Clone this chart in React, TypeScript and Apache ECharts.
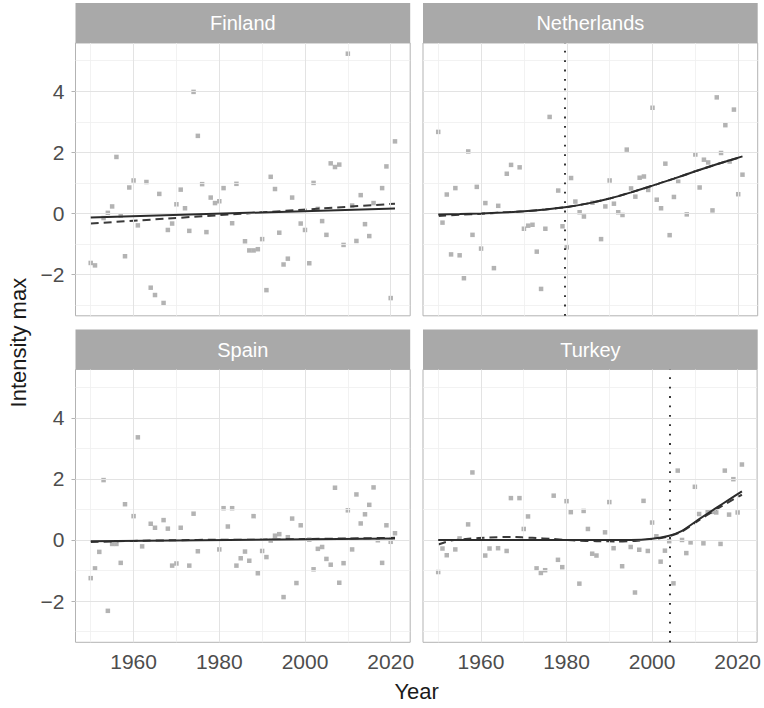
import React, { useEffect, useRef } from "react";
import * as echarts from "echarts";

const countries = ["Finland", "Netherlands", "Spain", "Turkey"];

const finlandPoints: [number, number][] = [
  [1950, -1.62], [1951, -1.7], [1953, -0.15], [1954, 0.02], [1955, 0.23], [1956, 1.85], [1957, -0.07],
  [1958, -1.4], [1959, 0.85], [1960, 1.08], [1961, -0.39], [1963, 1.03], [1964, -2.43], [1965, -2.67],
  [1966, 0.64], [1967, -2.93], [1968, -0.54], [1969, -0.33], [1970, 0.3], [1971, 0.78], [1972, 0.17],
  [1973, -0.57], [1974, 3.98], [1975, 2.54], [1976, 0.96], [1977, -0.61], [1978, 0.52], [1979, 0.34],
  [1980, 0.4], [1981, 0.83], [1983, -0.32], [1984, 0.97], [1986, -0.91], [1987, -1.21], [1988, -1.21],
  [1989, -1.17], [1990, -0.84], [1991, -2.51], [1992, 1.2], [1993, 0.8], [1994, -0.63], [1995, -1.67],
  [1996, -1.48], [1997, 0.52], [1999, -0.33], [2000, -0.54], [2001, -1.63], [2002, 1.0], [2003, 0.15],
  [2004, -0.25], [2005, -0.7], [2006, 1.64], [2007, 1.52], [2008, 1.6], [2009, -1.03], [2010, 5.23],
  [2011, 0.26], [2012, -0.9], [2013, 0.6], [2014, -0.35], [2015, -0.74], [2016, 0.34], [2018, 0.83],
  [2019, 1.54], [2020, -2.77], [2021, 2.36],
];
const netherlandsPoints: [number, number][] = [
  [1950, 2.67], [1951, -0.3], [1952, 0.62], [1953, -1.34], [1954, 0.83], [1955, -1.37], [1956, -2.12],
  [1957, 2.03], [1958, -0.7], [1959, 0.87], [1960, -1.15], [1961, 0.34], [1963, -1.79], [1964, 0.25],
  [1966, 1.3], [1967, 1.59], [1969, 1.51], [1970, -0.5], [1971, -0.4], [1972, -0.37], [1973, -1.25],
  [1974, -2.47], [1975, -0.5], [1976, 3.16], [1978, 0.75], [1979, -0.42], [1980, -1.11], [1981, 1.16],
  [1982, 0.39], [1983, 0.04], [1984, -0.1], [1986, 0.35], [1988, -0.84], [1989, 0.23], [1990, 1.08],
  [1991, 0.32], [1992, 0.04], [1993, -0.05], [1994, 2.09], [1995, 0.82], [1996, 0.55], [1997, 1.17],
  [1998, 1.21], [1999, 0.77], [2000, 3.46], [2001, 0.45], [2002, 0.17], [2003, 1.63], [2004, -0.71],
  [2005, 0.54], [2006, 1.04], [2008, -0.03], [2010, 1.93], [2011, 0.85], [2012, 1.76], [2013, 1.67],
  [2014, 0.1], [2015, 3.8], [2016, 1.98], [2017, 2.89], [2018, 1.7], [2019, 3.4], [2020, 0.63], [2021, 1.27],
];
const spainPoints: [number, number][] = [
  [1950, -1.25], [1951, -0.93], [1952, -0.39], [1953, 1.96], [1954, -2.32], [1955, -0.13], [1956, -0.13],
  [1957, -0.75], [1958, 1.17], [1960, 0.78], [1961, 3.36], [1962, -0.21], [1964, 0.53], [1965, 0.4],
  [1967, 0.65], [1968, 0.37], [1969, -0.84], [1970, -0.77], [1971, 0.4], [1973, -0.84], [1974, 0.86],
  [1975, -0.37], [1980, -0.31], [1981, 1.04], [1982, 0.44], [1983, 1.04], [1984, -0.84], [1985, -0.6],
  [1986, -0.38], [1987, -0.68], [1988, 0.78], [1989, -1.09], [1990, -0.36], [1991, -0.56], [1992, -0.02],
  [1993, 0.14], [1994, 0.19], [1995, -1.87], [1996, 0.09], [1997, 0.7], [1998, -1.41], [1999, 0.48],
  [2001, 0.01], [2002, -0.96], [2003, -0.29], [2004, -0.23], [2005, -0.62], [2006, -0.81], [2007, 1.71],
  [2008, -1.4], [2009, -0.76], [2010, 0.97], [2011, -0.31], [2012, 1.49], [2013, 0.54], [2014, 0.84],
  [2015, 1.15], [2016, 1.72], [2017, -0.01], [2018, -0.75], [2019, 0.48], [2020, -0.06], [2021, 0.22],
];
const turkeyPoints: [number, number][] = [
  [1950, -1.05], [1951, -0.28], [1952, -0.5], [1954, -0.31], [1955, 0.05], [1957, 0.51], [1958, 2.21],
  [1961, -0.51], [1962, -0.28], [1964, -0.27], [1966, -0.36], [1967, 1.37], [1969, 1.37], [1970, 0.36],
  [1971, 0.77], [1973, -0.93], [1974, -1.08], [1975, -0.99], [1977, 1.45], [1978, -0.65], [1979, -0.89],
  [1980, 1.27], [1981, 0.91], [1983, -1.43], [1984, 0.95], [1985, 0.36], [1986, -0.45], [1987, -0.51],
  [1989, 0.25], [1990, 1.24], [1991, -0.27], [1993, -0.86], [1995, -0.23], [1996, -1.72], [1997, -0.32],
  [1998, 1.28], [1999, -0.36], [2000, 0.57], [2001, 0.12], [2002, -0.71], [2003, -0.35], [2004, -0.04],
  [2005, -1.42], [2006, 2.27], [2007, 0.0], [2008, -0.43], [2009, -0.08], [2010, 1.74], [2011, 0.85],
  [2012, -0.11], [2013, 0.91], [2014, 0.92], [2015, 0.9], [2016, -0.13], [2017, 2.27], [2018, 0.83],
  [2019, 1.99], [2020, 0.9], [2021, 2.47],
];

const finlandSolid: [number, number][] = [[1950, -0.13], [2021, 0.16]];
const finlandDashed: [number, number][] = [[1950, -0.33], [2021, 0.32]];
const netherlandsSolid: [number, number][] = [
  [1950, -0.03], [1955, -0.02], [1960, 0.0], [1965, 0.03], [1970, 0.07], [1975, 0.13], [1980, 0.21],
  [1985, 0.33], [1990, 0.49], [1995, 0.69], [2000, 0.91], [2005, 1.14], [2010, 1.38], [2015, 1.61], [2021, 1.87],
];
const netherlandsDashed: [number, number][] = [
  [1950, -0.08], [1955, -0.04], [1960, -0.01], [1965, 0.03], [1970, 0.07], [1975, 0.13], [1980, 0.21],
  [1985, 0.33], [1990, 0.49], [1995, 0.69], [2000, 0.91], [2005, 1.14], [2010, 1.38], [2015, 1.61], [2021, 1.86],
];
const spainSolid: [number, number][] = [[1950, -0.04], [2021, 0.05]];
const spainDashed: [number, number][] = [
  [1950, -0.07], [1960, -0.03], [1970, -0.01], [1980, 0.01], [1990, 0.01], [2000, 0.03], [2010, 0.05], [2021, 0.07],
];
const turkeySolid: [number, number][] = [
  [1950, 0.0], [1960, 0.0], [1970, 0.0], [1980, 0.0], [1990, 0.0], [1995, 0.0], [2000, 0.04], [2004, 0.14],
  [2007, 0.3], [2011, 0.68], [2015, 1.05], [2018, 1.32], [2021, 1.59],
];
const turkeyDashed: [number, number][] = [
  [1950, -0.15], [1953, -0.02], [1957, 0.04], [1962, 0.08], [1967, 0.1], [1972, 0.07], [1977, 0.03],
  [1982, -0.02], [1987, -0.04], [1992, -0.05], [1996, -0.03], [2000, 0.02], [2004, 0.12], [2007, 0.28],
  [2011, 0.65], [2015, 1.0], [2018, 1.25], [2021, 1.48],
];

const pointsByCountry = [finlandPoints, netherlandsPoints, spainPoints, turkeyPoints];
const solidByCountry = [finlandSolid, netherlandsSolid, spainSolid, turkeySolid];
const dashedByCountry = [finlandDashed, netherlandsDashed, spainDashed, turkeyDashed];
const breakYears: (number | null)[] = [null, 1979.6, null, 2004.1];

const xMajorTicks = [1960, 1980, 2000, 2020];
const xMinorTicks = [1950, 1970, 1990, 2010];
const yMajorTicks = [-2, 0, 2, 4];
const yMinorTicks = [-3, -1, 1, 3, 5];
const xRange = [1946.45, 2024.55];
const yRange = [-3.35, 5.58];

const FONT = "'Liberation Sans', Arial, Helvetica, sans-serif";
const LEFTS = [75.5, 423];
const TOPS = [43, 369.5];
const W = 334.7;
const H = 272.8;
const STRIP_H = 40;

export default function App() {
  const ref = useRef<HTMLDivElement>(null);
  useEffect(() => {
    if (!ref.current) return;
    const chart = echarts.init(ref.current, undefined, { renderer: "svg" });
    const grids: any[] = [];
    const xAxes: any[] = [];
    const yAxes: any[] = [];
    const series: any[] = [];
    const graphics: any[] = [];
    const majorStyle = { color: "#e3e3e3", width: 1, type: "solid" };
    const minorStyle = { color: "#efefef", width: 0.8, type: "solid" };

    countries.forEach((name, i) => {
      const col = i % 2;
      const row = Math.floor(i / 2);
      const left = LEFTS[col];
      const top = TOPS[row];
      grids.push({
        left, top, width: W, height: H, show: true,
        borderColor: "#b3b3b3", borderWidth: 1, backgroundColor: "transparent",
      });
      xAxes.push({
        type: "value", gridIndex: i, min: xRange[0], max: xRange[1],
        axisLine: { show: false }, splitLine: { show: false },
        axisTick: { show: row === 1, customValues: xMajorTicks, length: 4, lineStyle: { color: "#b3b3b3" } },
        axisLabel: {
          show: row === 1, customValues: xMajorTicks, fontSize: 21, color: "#4d4d4d", margin: 9, fontFamily: FONT,
          formatter: (v: number) => String(v),
        },
      });
      yAxes.push({
        type: "value", gridIndex: i, min: yRange[0], max: yRange[1],
        axisLine: { show: false }, splitLine: { show: false },
        axisTick: { show: col === 0, customValues: yMajorTicks, length: 4, lineStyle: { color: "#b3b3b3" } },
        axisLabel: {
          show: col === 0, customValues: yMajorTicks, fontSize: 21, color: "#4d4d4d", margin: 11, fontFamily: FONT,
          formatter: (v: number) => (v < 0 ? "\u2212" + Math.abs(v) : String(v)),
        },
      });
      series.push({
        type: "line", xAxisIndex: i, yAxisIndex: i, data: [], silent: true, z: 1,
        markLine: {
          silent: true, symbol: ["none", "none"], label: { show: false }, animation: false,
          data: [
            ...xMinorTicks.map((v) => ({ xAxis: v, lineStyle: minorStyle })),
            ...yMinorTicks.map((v) => ({ yAxis: v, lineStyle: minorStyle })),
            ...xMajorTicks.map((v) => ({ xAxis: v, lineStyle: majorStyle })),
            ...yMajorTicks.map((v) => ({ yAxis: v, lineStyle: majorStyle })),
          ],
        },
      });
      series.push({
        type: "scatter", xAxisIndex: i, yAxisIndex: i, data: pointsByCountry[i], symbol: "rect",
        symbolSize: 4.5, itemStyle: { color: "#a0a0a0" }, z: 3, silent: true,
      });
      series.push({
        type: "line", xAxisIndex: i, yAxisIndex: i, data: dashedByCountry[i], showSymbol: false, smooth: 0.2,
        lineStyle: { color: "#3a3a3a", width: 2, type: [8, 5] }, z: 4, silent: true,
      });
      series.push({
        type: "line", xAxisIndex: i, yAxisIndex: i, data: solidByCountry[i], showSymbol: false, smooth: 0.2,
        lineStyle: { color: "#2b2b2b", width: 2 }, z: 5, silent: true,
      });
      const by = breakYears[i];
      if (by !== null) {
        series.push({
          type: "line", xAxisIndex: i, yAxisIndex: i, data: [], silent: true, z: 6,
          markLine: {
            silent: true, symbol: ["none", "none"], label: { show: false }, animation: false,
            data: [{ xAxis: by, lineStyle: { color: "#222", width: 1.8, type: [1.8, 7.6] } }],
          },
        });
      }
      graphics.push({
        type: "rect", shape: { x: left, y: top - STRIP_H, width: W, height: STRIP_H },
        style: { fill: "#a9a9a9" }, silent: true,
      });
      graphics.push({
        type: "text", x: left + W / 2, y: top - STRIP_H / 2,
        style: { text: name, fill: "#ffffff", font: `20px ${FONT}`, align: "center", verticalAlign: "middle" },
        silent: true,
      });
    });

    graphics.push({
      type: "text", x: 18, y: (TOPS[0] + TOPS[1] + H) / 2, rotation: Math.PI / 2,
      style: { text: "Intensity max", fill: "#1a1a1a", font: `22px ${FONT}`, align: "center", verticalAlign: "middle" },
      silent: true,
    });
    graphics.push({
      type: "text", x: LEFTS[0] + (LEFTS[1] + W - LEFTS[0]) / 2, y: 691,
      style: { text: "Year", fill: "#1a1a1a", font: `22px ${FONT}`, align: "center", verticalAlign: "middle" },
      silent: true,
    });

    chart.setOption({
      animation: false,
      backgroundColor: "#ffffff",
      grid: grids,
      xAxis: xAxes,
      yAxis: yAxes,
      series,
      graphic: graphics,
    });
    return () => chart.dispose();
  }, []);
  return <div ref={ref} style={{ position: "absolute", left: 0, top: 0, width: 764, height: 708 }} />;
}
